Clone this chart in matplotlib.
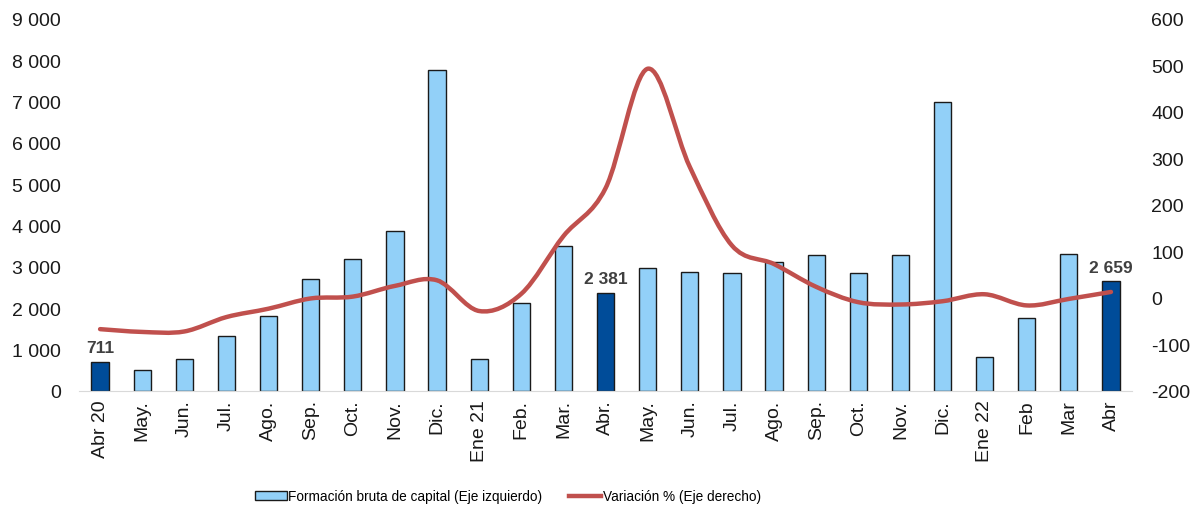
import matplotlib
matplotlib.use("Agg")
import matplotlib.pyplot as plt
from matplotlib.path import Path
from matplotlib.patches import PathPatch
from matplotlib.lines import Line2D
from matplotlib.ticker import FuncFormatter

plt.rcParams['font.family'] = ['Liberation Sans', 'DejaVu Sans']
plt.rcParams['axes.unicode_minus'] = False

months = ['Abr 20', 'May.', 'Jun.', 'Jul.', 'Ago.', 'Sep.', 'Oct.', 'Nov.', 'Dic.',
          'Ene 21', 'Feb.', 'Mar.', 'Abr.', 'May.', 'Jun.', 'Jul.', 'Ago.', 'Sep.',
          'Oct.', 'Nov.', 'Dic.', 'Ene 22', 'Feb', 'Mar', 'Abr']
capital = [711, 500, 770, 1330, 1820, 2700, 3200, 3870, 7760, 770, 2130, 3510, 2381,
           2980, 2890, 2850, 3130, 3300, 2860, 3280, 6980, 820, 1770, 3320, 2659]
variacion = [-67, -73, -72, -41, -23, -1, 3, 26, 38, -28, 9, 133, 236, 493, 282, 113,
             73, 24, -9, -14, -7, 8, -16, -2, 13]
highlight = [0, 12, 24]
labels = {0: '711', 12: '2 381', 24: '2 659'}

light = '#92D0F8'
dark = '#004C99'
red = '#C0504D'

fig = plt.figure(figsize=(11.92, 5.10), dpi=100)
ax = fig.add_axes([0.0663, 0.2314, 0.8834, 0.7294])
ax2 = ax.twinx()

x = list(range(len(months)))
colors = [dark if i in highlight else light for i in x]
bars = ax.bar(x, capital, width=0.41, color=colors, edgecolor='#1a1a1a', linewidth=1.0, zorder=2)

for i, txt in labels.items():
    ax.text(i, capital[i] + 150, txt, ha='center', va='bottom', fontsize=12.5,
            fontweight='bold', color='#404040')

ax.set_xlim(-0.5, len(months) - 0.5)
ax.set_ylim(0, 9000)
ax.set_yticks(range(0, 9001, 1000))
ax.yaxis.set_major_formatter(FuncFormatter(lambda v, p: f'{int(v):,}'.replace(',', ' ')))
ax.set_xticks(x)
ax.set_xticklabels(months, rotation=90)
ax2.set_ylim(-200, 600)
ax2.set_yticks(range(-200, 601, 100))

for a in (ax, ax2):
    for s in a.spines.values():
        s.set_visible(False)
    a.tick_params(length=0, labelsize=14, colors='#1a1a1a')
ax.spines['bottom'].set_visible(True)
ax.spines['bottom'].set_color('#D9D9D9')
ax.tick_params(axis='y', pad=13)
ax.tick_params(axis='x', pad=6)
ax2.tick_params(axis='y', pad=14)

# smoothed line (Excel style bezier through the points)
verts = [(x[0], variacion[0])]
codes = [Path.MOVETO]
n = len(x)
for i in range(n - 1):
    p0 = (x[max(i - 1, 0)], variacion[max(i - 1, 0)])
    p1 = (x[i], variacion[i])
    p2 = (x[i + 1], variacion[i + 1])
    p3 = (x[min(i + 2, n - 1)], variacion[min(i + 2, n - 1)])
    c1 = (p1[0] + (p2[0] - p0[0]) / 6, p1[1] + (p2[1] - p0[1]) / 6)
    c2 = (p2[0] - (p3[0] - p1[0]) / 6, p2[1] - (p3[1] - p1[1]) / 6)
    verts += [c1, c2, p2]
    codes += [Path.CURVE4] * 3
ax2.add_patch(PathPatch(Path(verts, codes), facecolor='none', edgecolor=red,
                        linewidth=3.2, capstyle='round', joinstyle='round', zorder=3))

handles = [bars.patches[1], Line2D([], [], color=red, linewidth=3.2)]
fig.legend(handles, ['Formación bruta de capital (Eje izquierdo)', 'Variación % (Eje derecho)'],
           loc='center', bbox_to_anchor=(0.426, 0.025), ncol=2, frameon=False,
           handlelength=2.35, handleheight=0.6, handletextpad=0.1, columnspacing=2.0,
           prop={'size': 9.8})

fig.savefig('out.png', dpi=100)
